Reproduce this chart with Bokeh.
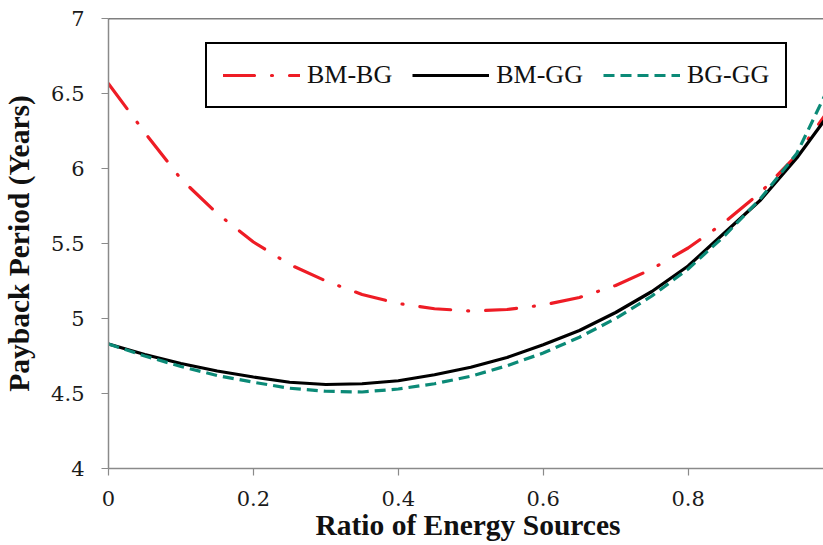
from bokeh.plotting import figure
from bokeh.models import FixedTicker, Span, Range1d, CustomJSTickFormatter
from bokeh.embed import file_html
from bokeh.resources import INLINE

# ---- data ----
ratio = [0.0, 0.05, 0.1, 0.15, 0.2, 0.25, 0.3, 0.35, 0.4, 0.45, 0.5,
         0.55, 0.6, 0.65, 0.7, 0.75, 0.8, 0.85, 0.9, 0.95, 1.0]
bm_bg = [6.565, 6.24, 5.93, 5.70, 5.51, 5.36, 5.25, 5.16, 5.10, 5.065, 5.05,
         5.06, 5.09, 5.14, 5.22, 5.33, 5.47, 5.64, 5.84, 6.09, 6.43]
bm_gg = [4.83, 4.76, 4.70, 4.65, 4.61, 4.575, 4.56, 4.565, 4.585, 4.625, 4.675,
         4.74, 4.825, 4.92, 5.04, 5.18, 5.35, 5.57, 5.79, 6.07, 6.40]
bg_gg = [4.83, 4.75, 4.68, 4.62, 4.575, 4.535, 4.515, 4.51, 4.53, 4.565, 4.615,
         4.685, 4.77, 4.875, 5.0, 5.15, 5.33, 5.55, 5.80, 6.10, 6.60]

series_names = ["BM-BG", "BM-GG", "BG-GG"]
x_ticks = [0, 0.2, 0.4, 0.6, 0.8, 1.0]
x_tick_labels = ["0", "0.2", "0.4", "0.6", "0.8", "1"]
y_ticks = [4, 4.5, 5, 5.5, 6, 6.5, 7]
y_tick_labels = ["4", "4.5", "5", "5.5", "6", "6.5", "7"]

SERIF = "Liberation Serif"
TICK_FONT = "DejaVu Serif"
AXIS_GRAY = "#8a8a8a"

LABEL_JS = """
const i = tvals.findIndex(t => Math.abs(t - tick) < 1e-9);
return i >= 0 ? tlabels[i] : String(tick);
"""

p = figure(frame_width=719, frame_height=450,
           x_range=Range1d(0, 0.9924), y_range=Range1d(4, 7),
           output_backend="svg", toolbar_location=None,
           min_border_left=104, min_border_top=18, min_border_right=0,
           min_border_bottom=77)

p.background_fill_color = "white"
p.border_fill_color = "white"
p.outline_line_color = None
p.xgrid.visible = False
p.ygrid.visible = False

p.line(ratio, bm_bg, line_color="#ee1c25", line_width=3.2,
       line_dash="31 17 1 17", line_cap="round", legend_label=series_names[0])
p.line(ratio, bm_gg, line_color="black", line_width=3.2,
       legend_label=series_names[1])
p.line(ratio, bg_gg, line_color="#0b8a77", line_width=3.2,
       line_dash="11 6", legend_label=series_names[2])

p.add_layout(Span(location=7, dimension="width", line_color="black",
                  line_width=1.5))

# axes
p.axis.axis_line_color = AXIS_GRAY
p.axis.axis_line_width = 1.5
p.axis.major_tick_line_color = AXIS_GRAY
p.axis.major_tick_line_width = 1.2
p.axis.major_tick_in = 0
p.axis.major_tick_out = 7
p.axis.minor_tick_line_color = None
p.axis.major_label_text_font = TICK_FONT
p.axis.major_label_text_font_style = "normal"
p.axis.major_label_text_font_size = "21px"
p.axis.major_label_text_color = "#1a1a1a"
p.axis.axis_label_text_font = SERIF
p.axis.axis_label_text_font_style = "bold"
p.axis.axis_label_text_font_size = "29.5px"
p.axis.axis_label_text_color = "#111111"

p.xaxis.ticker = FixedTicker(ticks=x_ticks)
p.xaxis.formatter = CustomJSTickFormatter(
    args=dict(tvals=x_ticks, tlabels=x_tick_labels), code=LABEL_JS)
p.yaxis.ticker = FixedTicker(ticks=y_ticks)
p.yaxis.formatter = CustomJSTickFormatter(
    args=dict(tvals=y_ticks, tlabels=y_tick_labels), code=LABEL_JS)
p.xaxis.axis_label = "Ratio of Energy Sources"
p.yaxis.axis_label = "Payback Period (Years)"
p.xaxis.major_label_standoff = 15
p.xaxis.axis_label_standoff = 0
p.yaxis.major_label_standoff = 17
p.yaxis.axis_label_standoff = 13

# legend
lg = p.legend[0]
lg.orientation = "horizontal"
lg.location = (97, 360)
lg.label_text_font = SERIF
lg.label_text_font_size = "26px"
lg.label_text_color = "#111111"
lg.glyph_width = 77
lg.glyph_height = 20
lg.label_standoff = 7
lg.spacing = 20
lg.padding = 16
lg.margin = 0
lg.border_line_color = "black"
lg.border_line_alpha = 1.0
lg.border_line_width = 2
lg.background_fill_color = "white"
lg.background_fill_alpha = 1.0

open("out.html", "w").write(file_html(p, INLINE))
